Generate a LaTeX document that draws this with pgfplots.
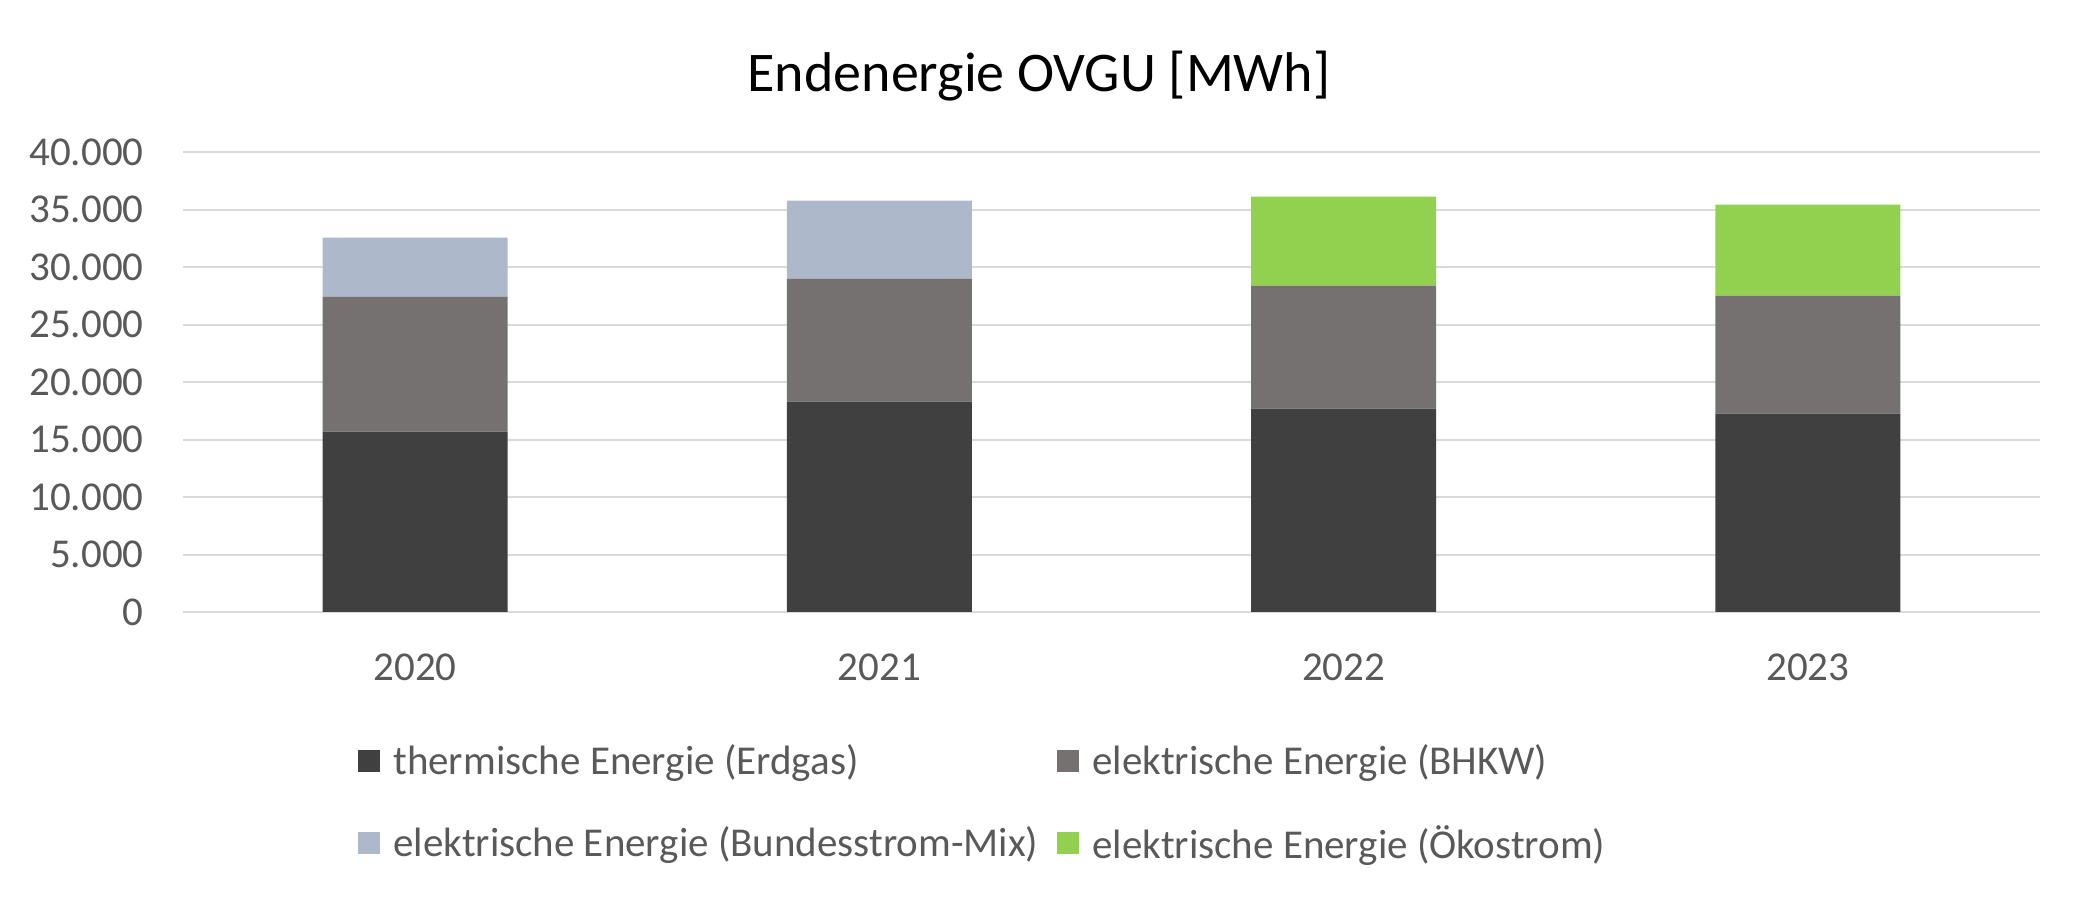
\documentclass[border=0pt]{standalone}
\usepackage{fontspec}
\setmainfont{Carlito}
\usepackage{pgfplots}
\pgfplotsset{compat=1.18}
\definecolor{cErd}{HTML}{404040}
\definecolor{cBHKW}{HTML}{757171}
\definecolor{cMix}{HTML}{ADB9CA}
\definecolor{cOeko}{HTML}{92D050}
\definecolor{txt}{HTML}{595959}
\definecolor{gridc}{HTML}{D9D9D9}
\begin{document}
\begin{tikzpicture}
\begin{axis}[
  at={(91.5bp,145bp)}, anchor=south west,
  scale only axis, width=928.5bp, height=230bp,
  ybar stacked, bar width=92.5bp,
  xmin=-0.5, xmax=3.5, ymin=0, ymax=40000,
  xtick={0,1,2,3}, xticklabels={2020,2021,2022,2023},
  ytick={0,5000,10000,15000,20000,25000,30000,35000,40000},
  scaled y ticks=false,
  /pgf/number format/.cd, fixed, 1000 sep={.}, assume math mode=true, /pgfplots/.cd,
  axis line style={draw=none},
  ymajorgrids, grid style={gridc, line width=1bp},
  major tick length=0pt,
  tick label style={font=\fontsize{20.5bp}{24bp}\selectfont, text=txt},
  yticklabel style={inner sep=0pt, xshift=-19.5bp},
  xticklabel style={inner sep=0pt, yshift=-20.5bp},
  legend columns=2,
  legend cell align=left,
  legend style={draw=none, fill=none, at={(axis description cs:0.0942,-0.278)}, anchor=north west,
    font=\fontsize{20.5bp}{24bp}\selectfont, text=txt, inner sep=0pt,
    /tikz/every odd column/.append style={column sep=4.5bp},
    /tikz/every even column/.append style={column sep=7.5bp},
    row sep=20bp},
  legend image code/.code={\fill[#1] (0bp,-5.5bp) rectangle (11bp,5.5bp);},
]
\addplot[fill=cErd, draw=none] coordinates {(0,15680) (1,18290) (2,17680) (3,17245)};
\addlegendentry{thermische Energie (Erdgas)}
\addplot[fill=cBHKW, draw=none] coordinates {(0,11740) (1,10695) (2,10695) (3,10260)};
\addlegendentry{elektrische Energie (BHKW)}
\addplot[fill=cMix, draw=none] coordinates {(0,5130) (1,6785) (2,0) (3,0)};
\addlegendentry{elektrische Energie (Bundesstrom-Mix)}
\addplot[fill=cOeko, draw=none] coordinates {(0,0) (1,0) (2,7740) (3,7915)};
\addlegendentry{elektrische Energie (Ökostrom)}
\end{axis}
\node[anchor=base, font=\fontsize{28bp}{32bp}\selectfont] at (519.5bp,405bp) {Endenergie OVGU [MWh]};
\pgfresetboundingbox
\path[use as bounding box] (0,0) rectangle (1042.5bp,451bp);
\end{tikzpicture}
\end{document}
